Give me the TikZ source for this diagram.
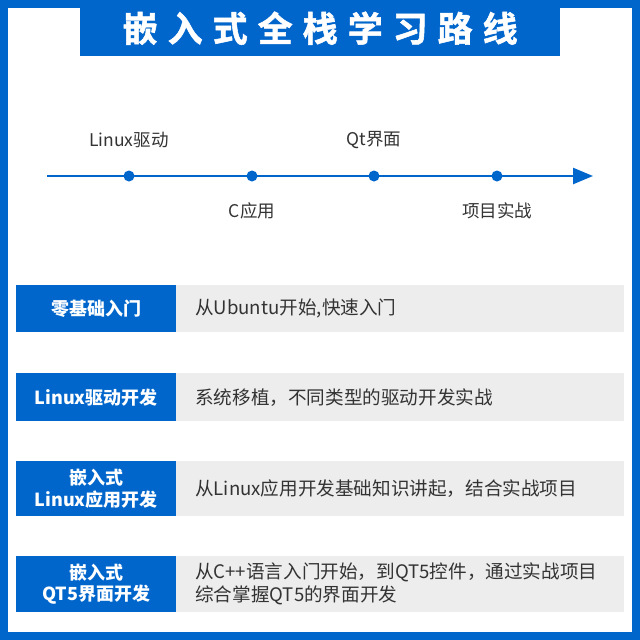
\documentclass[tikz,border=0pt]{standalone}
\usepackage{fontspec}
\newfontfamily\cjk{Noto Sans CJK SC}
\newfontfamily\cjkb[FakeBold=1.5]{Noto Sans CJK SC Bold}
\usetikzlibrary{arrows.meta}
\definecolor{bl}{HTML}{0066CC}
\definecolor{gr}{HTML}{EDEDED}
\definecolor{tx}{HTML}{333333}
\newcommand{\tsp}{\hspace{10pt}}
\tikzset{
 lbl/.style={fill=bl,text=white,font=\cjk\bfseries\fontsize{18}{21.5}\selectfont,align=center,minimum width=160pt,inner sep=0pt},
 desc/.style={fill=gr,text=tx,font=\cjk\fontsize{18.6}{23}\selectfont,align=left,text width=410pt,inner xsep=19pt,inner ysep=0pt},
 dot/.style={circle,fill=bl,inner sep=0pt,minimum size=11pt},
 tl/.style={text=tx,font=\cjk\fontsize{17.5}{20}\selectfont}
}
\begin{document}
\begin{tikzpicture}[x=1pt,y=-1pt]
\useasboundingbox (0,0) rectangle (640,640);
\fill[bl] (0,0) rectangle (640,640);
\fill[white] (8,8) rectangle (632,632);
\node[fill=bl,text=white,minimum width=480pt,minimum height=56pt,font=\cjkb\fontsize{35}{38}\selectfont,anchor=north west,inner sep=0pt] (title) at (80,0) {嵌\tsp 入\tsp 式\tsp 全\tsp 栈\tsp 学\tsp 习\tsp 路\tsp 线};
\coordinate (s) at (47,176);
\coordinate (e) at (593,176);
\draw[bl,line width=2.5pt,-{Triangle[length=20pt,width=16pt]}] (s) -- (e);
\node[dot] (d1) at (129,176) {};
\node[dot] (d2) at (252,176) {};
\node[dot] (d3) at (374,176) {};
\node[dot] (d4) at (497,176) {};
\node[tl] (l1) at (129,140) {Linux驱动};
\node[tl] (l2) at (252,211) {C应用};
\node[tl] (l3) at (374,140) {Qt界面};
\node[tl] (l4) at (497,211) {项目实战};
% rows
\node[lbl,minimum height=47pt,anchor=north west] (r1) at (16,285) {零基础入门};
\node[desc,minimum height=47pt,anchor=north west] (t1) at (176,285) {从Ubuntu开始,快速入门};
\node[lbl,minimum height=48pt,anchor=north west] (r2) at (16,373) {Linux驱动开发};
\node[desc,minimum height=48pt,anchor=north west] (t2) at (176,373) {系统移植，不同类型的驱动开发实战};
\node[lbl,minimum height=55pt,anchor=north west] (r3) at (16,461) {嵌入式\\Linux应用开发};
\node[desc,minimum height=55pt,anchor=north west] (t3) at (176,461) {从Linux应用开发基础知识讲起，结合实战项目};
\node[lbl,minimum height=56pt,anchor=north west] (r4) at (16,556) {嵌入式\\QT5界面开发};
\node[desc,minimum height=56pt,anchor=north west] (t4) at (176,556) {从C++语言入门开始，到QT5控件，通过实战项目\\综合掌握QT5的界面开发};
\end{tikzpicture}
\end{document}
